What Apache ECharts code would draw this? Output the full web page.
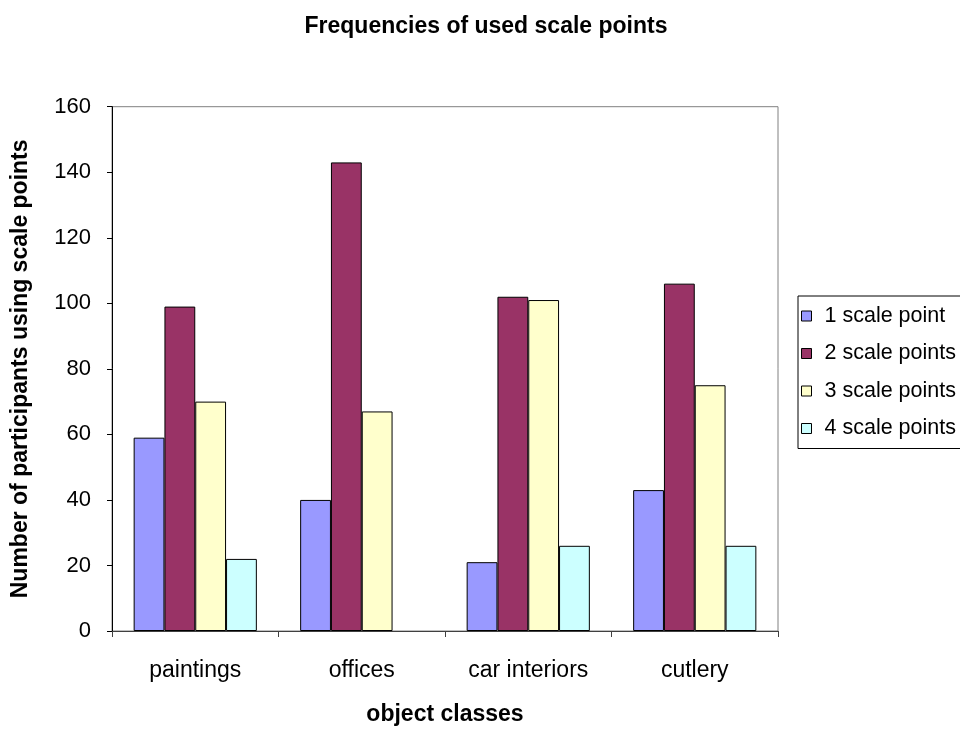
<!DOCTYPE html>
<html>
<head>
<meta charset="utf-8">
<script src="https://cdn.jsdelivr.net/npm/echarts@6/dist/echarts.min.js"></script>
<style>
  html, body { margin: 0; padding: 0; background: #fff; }
  #chart { width: 960px; height: 731px; }
</style>
</head>
<body>
<div id="chart"></div>
<script>
// Object classes on the x axis
const categories = ['paintings', 'offices', 'car interiors', 'cutlery'];

// Number of participants per number of scale points used
// (offices has no value for 4 scale points)
const onePoint    = [59, 40, 21, 43];
const twoPoints   = [99, 143, 102, 106];
const threePoints = [70, 67, 101, 75];
const fourPoints  = [22, null, 26, 26];

const seriesNames = ['1 scale point', '2 scale points', '3 scale points', '4 scale points'];
const seriesData = [onePoint, twoPoints, threePoints, fourPoints];
const seriesColors = ['#9999FF', '#993366', '#FFFFCC', '#CCFFFF'];

const FONT = 'Liberation Sans, Arial, sans-serif';

const chart = echarts.init(document.getElementById('chart'), null, { renderer: 'canvas' });

chart.setOption({
  backgroundColor: '#ffffff',
  animation: false,
  title: {
    text: 'Frequencies of used scale points',
    left: 481,
    textAlign: 'center',
    top: 10,
    textStyle: { fontFamily: FONT, fontSize: 23, fontWeight: 'bold', color: '#000' }
  },
  legend: {
    orient: 'vertical',
    left: 798,
    top: 296,
    data: seriesNames,
    icon: 'rect',
    itemWidth: 10,
    itemHeight: 10,
    itemGap: 15.5,
    padding: [9, 8, 9, 3],
    borderColor: '#000',
    borderWidth: 1,
    backgroundColor: '#fff',
    itemStyle: { borderColor: '#000', borderWidth: 1 },
    textStyle: { fontFamily: FONT, fontSize: 21.5, color: '#000', padding: [0, 0, 0, 8] }
  },
  grid: {
    left: 112,
    right: 182,
    top: 106.7,
    bottom: 97.7,
    show: true,
    borderColor: '#808080',
    borderWidth: 1,
    backgroundColor: '#fff'
  },
  xAxis: {
    type: 'category',
    data: categories,
    name: 'object classes',
    nameLocation: 'middle',
    nameGap: 72,
    nameTextStyle: { fontFamily: FONT, fontSize: 23, fontWeight: 'bold', color: '#000' },
    axisLine: { lineStyle: { color: '#404040', width: 1 } },
    axisTick: { show: true, length: 6, lineStyle: { color: '#404040' } },
    axisLabel: { margin: 28, fontFamily: FONT, fontSize: 23, color: '#000' },
    splitLine: { show: false }
  },
  yAxis: {
    type: 'value',
    min: 0,
    max: 160,
    interval: 20,
    name: 'Number of participants using scale points',
    nameLocation: 'middle',
    nameGap: 80,
    nameTextStyle: { fontFamily: FONT, fontSize: 23, fontWeight: 'bold', color: '#000' },
    axisLine: { show: true, lineStyle: { color: '#000', width: 1 } },
    axisTick: { show: true, length: 5, lineStyle: { color: '#000' } },
    axisLabel: { margin: 21, fontFamily: FONT, fontSize: 22, color: '#000' },
    splitLine: { show: false }
  },
  series: seriesNames.map((name, i) => ({
    name: name,
    type: 'bar',
    data: seriesData[i],
    barGap: '0%',
    barCategoryGap: '26%',
    itemStyle: { color: seriesColors[i], borderColor: '#000', borderWidth: 1 }
  }))
});
</script>
</body>
</html>
